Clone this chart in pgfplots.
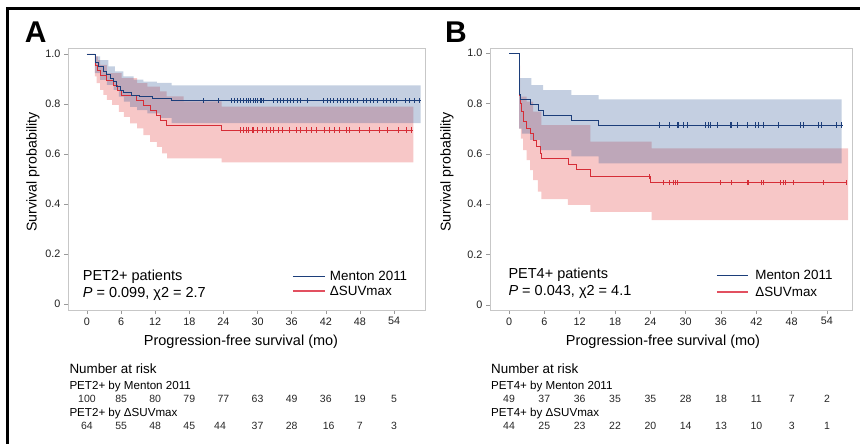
\documentclass[border=0pt]{standalone}
\usepackage{fontspec}
\setmainfont{Liberation Sans}
\usepackage{pgfplots}
\pgfplotsset{compat=1.18}
\usepgfplotslibrary{fillbetween}

\definecolor{kmblue}{RGB}{28,62,122}
\definecolor{kmred}{RGB}{214,45,55}
\definecolor{bandblue}{RGB}{50,90,150}
\definecolor{bandred}{RGB}{230,80,80}
\definecolor{legred}{RGB}{226,80,96}

\pgfplotsset{
  kmaxis/.style={
    scale only axis, anchor=south west, height=262pt,
    ytick={0,0.2,0.4,0.6,0.8,1.0}, yticklabels={0,0.2,0.4,0.6,0.8,1.0},
    xtick={0,6,...,54},
    tick pos=left, tick align=outside, major tick length=4pt,
    axis line style={black!22, line width=0.8pt},
    tick style={black!40, line width=0.5pt},
    tick label style={font=\fontsize{10.8}{12}\selectfont, text=black!88},
    /pgf/number format/assume math mode=true,
    clip=false,
  },
  kmline/.style={const plot, line width=0.9pt},
  cens/.style={only marks, mark=|, mark size=2.6pt, mark options={line width=0.55pt}},
}
\newcommand{\riskfont}{\fontsize{10.5}{12}\selectfont}

\begin{document}
\begin{tikzpicture}
\draw[line width=2.5pt, line join=miter] (7.5pt,-444pt) -- (7.5pt,-8.5pt) -- (860pt,-8.5pt);

% ---------------- panel A ----------------
\begin{axis}[kmaxis, at={(68pt,-310pt)}, width=357pt,
  xmin=-3.34, xmax=59.45, ymin=-0.024, ymax=1.024]
% CI bands
\addplot[name path=Ru, draw=none, const plot] coordinates {(0,1) (1.4,0.99) (1.9,0.975) (2.3,0.956) (3.5,0.923) (6.1,0.903) (8.8,0.883) (10.6,0.869) (12.8,0.85) (14.0,0.83) (17,0.81) (23.7,0.79) (57.4,0.79)};
\addplot[name path=Rl, draw=none, const plot] coordinates {(0,1) (1.4,0.91) (1.7,0.883) (2.3,0.856) (2.9,0.836) (3.5,0.816) (4.4,0.796) (5.6,0.769) (6.5,0.749) (7.6,0.723) (8.8,0.703) (9.9,0.676) (11.1,0.649) (12.3,0.629) (13.2,0.603) (14.1,0.583) (23.7,0.567) (57.4,0.567)};
\addplot[bandred, fill opacity=0.32, draw=none] fill between[of=Ru and Rl];
\addplot[name path=Bu, draw=none, const plot] coordinates {(0,1) (1.4,0.99) (2.3,0.975) (3.75,0.95) (4.9,0.93) (6.4,0.91) (8.2,0.897) (9.9,0.889) (12.3,0.884) (14.9,0.874) (58.7,0.874)};
\addplot[name path=Bl, draw=none, const plot] coordinates {(0,1) (1.4,0.923) (2.3,0.896) (3.5,0.876) (4.7,0.856) (5.6,0.829) (6.5,0.809) (7.6,0.789) (8.8,0.776) (10.6,0.763) (12.8,0.745) (14.9,0.724) (58.7,0.724)};
\addplot[bandblue, fill opacity=0.29, draw=none] fill between[of=Bu and Bl];
% KM curves
\addplot[kmline, kmred] coordinates {(0,1) (1.4,0.956) (1.9,0.936) (2.3,0.916) (3.5,0.896) (4.7,0.876) (5.3,0.856) (6.1,0.836) (8.7,0.816) (9.9,0.796) (11.1,0.776) (12.2,0.756) (12.9,0.736) (14.0,0.716) (23.7,0.696) (57.4,0.696)};
\addplot[kmline, kmblue] coordinates {(0,1) (1.4,0.965) (2.0,0.95) (2.9,0.93) (3.5,0.917) (4.05,0.903) (4.6,0.89) (5.2,0.87) (5.8,0.856) (6.4,0.846) (7.9,0.836) (9.3,0.83) (11.5,0.823) (14.9,0.813) (58.7,0.813)};
% censored
\addplot[cens, kmred] coordinates {(26.9,0.696) (27.5,0.696) (28.1,0.696) (28.4,0.696) (29.0,0.696) (29.3,0.696) (29.9,0.696) (30.8,0.696) (31.6,0.696) (32.2,0.696) (32.8,0.696) (33.6,0.696) (34.4,0.696) (35.6,0.696) (36.8,0.696) (37.6,0.696) (38.6,0.696) (39.4,0.696) (40.3,0.696) (41.8,0.696) (42.6,0.696) (43.5,0.696) (44.4,0.696) (45.6,0.696) (46.2,0.696) (47.9,0.696) (49.7,0.696) (51.4,0.696) (52.9,0.696) (54.7,0.696) (56.1,0.696) (57.0,0.696)};
\addplot[cens, kmblue] coordinates {(20.5,0.813) (23.1,0.813) (25.4,0.813) (25.9,0.813) (26.4,0.813) (26.9,0.813) (27.5,0.813) (28.1,0.813) (28.4,0.813) (28.7,0.813) (29.3,0.813) (29.6,0.813) (29.9,0.813) (30.4,0.813) (30.7,0.813) (31.0,0.813) (32.8,0.813) (33.4,0.813) (34.0,0.813) (34.6,0.813) (35.2,0.813) (35.8,0.813) (36.3,0.813) (36.9,0.813) (37.5,0.813) (38.7,0.813) (41.6,0.813) (42.2,0.813) (42.8,0.813) (43.4,0.813) (44.0,0.813) (44.6,0.813) (45.1,0.813) (45.7,0.813) (46.3,0.813) (46.9,0.813) (47.5,0.813) (48.6,0.813) (49.2,0.813) (49.8,0.813) (50.4,0.813) (51.0,0.813) (52.1,0.813) (52.7,0.813) (53.3,0.813) (53.8,0.813) (54.4,0.813) (55.9,0.813) (56.7,0.813) (57.6,0.813) (58.5,0.813)};
% in-plot text and legend
\node[anchor=west, inner sep=0, font=\fontsize{14.5}{16}\selectfont] at (axis cs:-0.76,0.111) {PET2+ patients};
\node[anchor=west, inner sep=0, font=\fontsize{14.5}{16}\selectfont] at (axis cs:-0.76,0.041) {\textit{P} = 0.099, χ2 = 2.7};
\draw[kmblue, line width=1pt] (axis cs:36.2,0.111) -- (axis cs:41.9,0.111);
\draw[legred, line width=1.8pt] (axis cs:36.2,0.052) -- (axis cs:41.9,0.052);
\node[anchor=west, inner sep=0, font=\fontsize{13.4}{15}\selectfont] at (axis cs:42.7,0.111) {Menton 2011};
\node[anchor=west, inner sep=0, font=\fontsize{13.4}{15}\selectfont] at (axis cs:42.7,0.052) {ΔSUVmax};
\end{axis}

% ---------------- panel B ----------------
\begin{axis}[kmaxis, at={(490pt,-310pt)}, width=362pt,
  xmin=-3.23, xmax=58.25, ymin=-0.02, ymax=1.02]
\addplot[name path=Ru, draw=none, const plot] coordinates {(0,1) (1.7,0.95) (1.9,0.827) (3.0,0.807) (4.1,0.767) (5.5,0.714) (13.8,0.648) (24.2,0.622) (57.6,0.622)};
\addplot[name path=Rl, draw=none, const plot] coordinates {(0,1) (1.7,0.70) (2.0,0.66) (2.4,0.615) (3.0,0.575) (3.6,0.535) (4.1,0.496) (4.9,0.45) (5.5,0.42) (10.0,0.397) (13.8,0.37) (24.2,0.337) (57.6,0.337)};
\addplot[bandred, fill opacity=0.32, draw=none] fill between[of=Ru and Rl];
\addplot[name path=Bu, draw=none, const plot] coordinates {(0,1) (1.7,0.90) (3.8,0.873) (5.8,0.853) (10.6,0.833) (15.2,0.816) (56.5,0.816)};
\addplot[name path=Bl, draw=none, const plot] coordinates {(0,1) (1.7,0.70) (2.2,0.68) (3.6,0.655) (5.3,0.615) (10.6,0.59) (15.2,0.562) (56.5,0.562)};
\addplot[bandblue, fill opacity=0.29, draw=none] fill between[of=Bu and Bl];
\addplot[kmline, kmred] coordinates {(0,1) (1.7,0.83) (1.9,0.80) (2.15,0.767) (2.4,0.727) (3.0,0.70) (3.6,0.68) (4.1,0.655) (4.7,0.63) (5.3,0.602) (5.5,0.582) (10.1,0.558) (11.5,0.536) (13.8,0.509) (24.0,0.485) (57.3,0.485)};
\addplot[kmline, kmblue] coordinates {(0,1) (1.7,0.837) (2.0,0.814) (3.6,0.794) (5.0,0.774) (5.8,0.754) (10.6,0.734) (15.2,0.714) (56.7,0.714)};
\addplot[cens, kmred] coordinates {(23.9,0.509) (26.2,0.485) (27.3,0.485) (27.9,0.485) (28.2,0.485) (28.5,0.485) (35.8,0.485) (37.8,0.485) (40.4,0.485) (40.6,0.485) (42.9,0.485) (43.2,0.485) (46.0,0.485) (46.6,0.485) (46.9,0.485) (48.3,0.485) (53.4,0.485) (57.3,0.485)};
\addplot[cens, kmblue] coordinates {(25.6,0.714) (27.3,0.714) (28.5,0.714) (28.7,0.714) (29.6,0.714) (30.2,0.714) (33.3,0.714) (33.8,0.714) (34.1,0.714) (35.3,0.714) (37.5,0.714) (37.8,0.714) (38.7,0.714) (40.4,0.714) (41.8,0.714) (42.3,0.714) (43.2,0.714) (45.7,0.714) (49.4,0.714) (50.0,0.714) (52.5,0.714) (53.1,0.714) (55.6,0.714) (56.5,0.714)};
\node[anchor=west, inner sep=0, font=\fontsize{14.5}{16}\selectfont] at (axis cs:-0.12,0.118) {PET4+ patients};
\node[anchor=west, inner sep=0, font=\fontsize{14.5}{16}\selectfont] at (axis cs:-0.12,0.052) {\textit{P} = 0.043, χ2 = 4.1};
\draw[kmblue, line width=1pt] (axis cs:35.3,0.118) -- (axis cs:40.6,0.118);
\draw[legred, line width=1.8pt] (axis cs:35.3,0.052) -- (axis cs:40.6,0.052);
\node[anchor=west, inner sep=0, font=\fontsize{13.4}{15}\selectfont] at (axis cs:41.8,0.118) {Menton 2011};
\node[anchor=west, inner sep=0, font=\fontsize{13.4}{15}\selectfont] at (axis cs:41.8,0.052) {ΔSUVmax};
\end{axis}

% ---------------- numbers at risk (x = tick position of each column) ----------------
\foreach \xv/\nv in {0/100,6/85,12/80,18/79,24/77,30/63,36/49,42/36,48/19,54/5}
  \node[anchor=base, inner sep=0, font=\riskfont, text=black!85] at ({(87+5.685*\xv)*1pt},-402.5pt) {\nv};
\foreach \xv/\nv in {0/64,6/55,12/48,18/45,23.4/44,30/37,36/28,42.5/16,48/7,54/3}
  \node[anchor=base, inner sep=0, font=\riskfont, text=black!85] at ({(87+5.685*\xv)*1pt},-429.1pt) {\nv};
\foreach \xv/\nv in {0/49,6/37,12/36,18/35,24/35,30/28,36/18,42/11,48/7,54/2}
  \node[anchor=base, inner sep=0, font=\riskfont, text=black!85] at ({(509+5.889*\xv)*1pt},-402.5pt) {\nv};
\foreach \xv/\nv in {0/44,6/25,12/23,18/22,24/20,30/14,36/13,42/10,48/3,54/1}
  \node[anchor=base, inner sep=0, font=\riskfont, text=black!85] at ({(509+5.889*\xv)*1pt},-429.1pt) {\nv};

% ---------------- labels outside the axes ----------------
\node[font=\fontsize{30}{30}\bfseries\selectfont, inner sep=0] at (35.8pt,-32.5pt) {A};
\node[font=\fontsize{30}{30}\bfseries\selectfont, inner sep=0] at (456pt,-32.5pt) {B};
\node[rotate=90, font=\fontsize{14.2}{16}\selectfont, inner sep=0] at (33pt,-172pt) {Survival probability};
\node[rotate=90, font=\fontsize{14.2}{16}\selectfont, inner sep=0] at (447pt,-172pt) {Survival probability};
\node[font=\fontsize{14.5}{16}\selectfont, inner sep=0] at (241pt,-342pt) {Progression-free survival (mo)};
\node[font=\fontsize{14.5}{16}\selectfont, inner sep=0] at (663pt,-342pt) {Progression-free survival (mo)};
\node[anchor=base west, inner sep=0, font=\fontsize{13.4}{15}\selectfont] at (69.3pt,-373.5pt) {Number at risk};
\node[anchor=base west, inner sep=0, font=\fontsize{11.6}{13}\selectfont] at (69.3pt,-389.5pt) {PET2+ by Menton 2011};
\node[anchor=base west, inner sep=0, font=\fontsize{11.6}{13}\selectfont] at (69.3pt,-416.2pt) {PET2+ by ΔSUVmax};
\node[anchor=base west, inner sep=0, font=\fontsize{13.4}{15}\selectfont] at (491pt,-373.5pt) {Number at risk};
\node[anchor=base west, inner sep=0, font=\fontsize{11.6}{13}\selectfont] at (491pt,-389.5pt) {PET4+ by Menton 2011};
\node[anchor=base west, inner sep=0, font=\fontsize{11.6}{13}\selectfont] at (491pt,-416.2pt) {PET4+ by ΔSUVmax};

\pgfresetboundingbox
\path[use as bounding box] (0pt,0pt) rectangle (860pt,-444pt);
\end{tikzpicture}
\end{document}
